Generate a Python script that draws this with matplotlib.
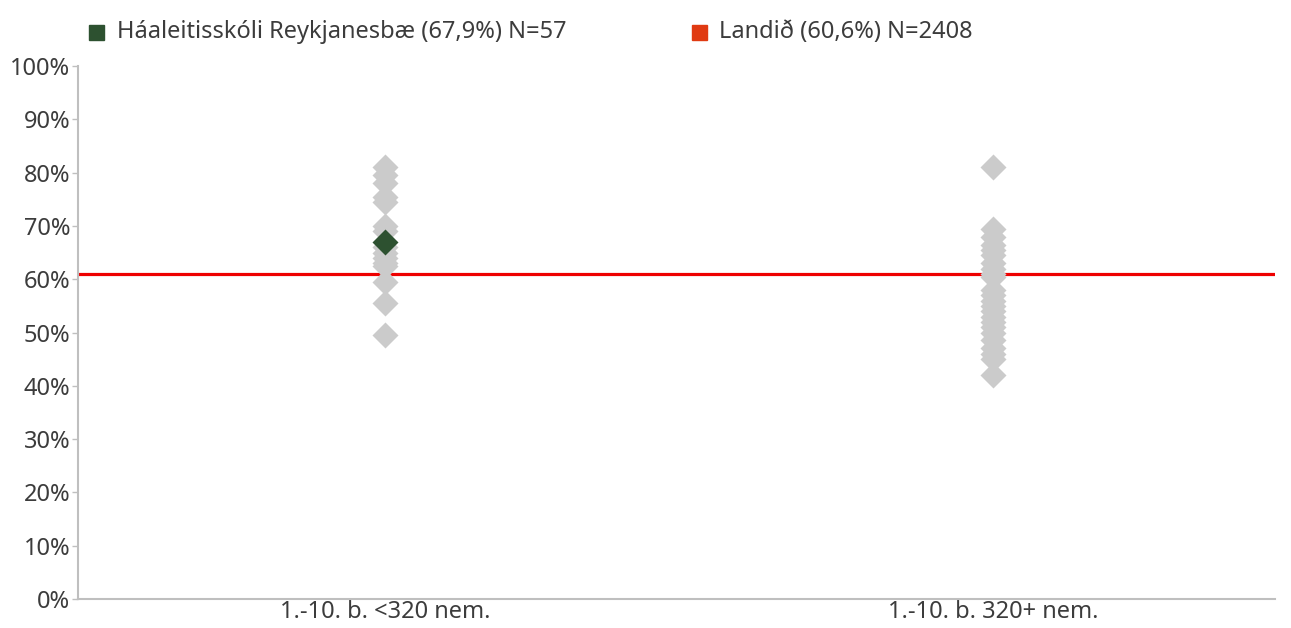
import matplotlib
matplotlib.use("Agg")
import matplotlib.pyplot as plt
from matplotlib.patches import Rectangle

plt.rcParams['font.family'] = ['Noto Sans', 'DejaVu Sans']

categories = ["1.-10. b. <320 nem.", "1.-10. b. 320+ nem."]
group_small = [81, 79.5, 78, 75.5, 74.5, 70, 69, 66, 65, 64, 63, 62.5, 59.5, 55.5, 49.5]
group_large = [81, 69.5, 68, 66.5, 65.5, 64.5, 63, 62, 61, 60.5, 58, 57, 56, 55, 54,
               53, 52, 51, 50, 48.5, 47, 46, 45, 42]
school_value = 67.0
school_category = 0
national_value = 61.0
legend_labels = ["Háaleitisskóli Reykjanesbæ (67,9%) N=57", "Landið (60,6%) N=2408"]
yticks = list(range(0, 101, 10))

gray = "#cbcbcb"
green = "#2d5130"
legend_red = "#e03a12"
line_red = "#ee0000"
text_col = "#3c3c3c"

fig = plt.figure(figsize=(12.91, 6.28), dpi=100)
ax = fig.add_axes([78/1291, 1 - 599/628, (1275-78)/1291, (599-66)/628])

ax.axhline(national_value, color=line_red, lw=2.3, zorder=2)

for i, vals in enumerate([group_small, group_large]):
    ax.plot([i]*len(vals), vals, linestyle='none', marker='D', ms=13.5,
            color=gray, mec='none', zorder=3)
ax.plot([school_category], [school_value], linestyle='none', marker='D', ms=13.5,
        color=green, mec='none', zorder=4)

ax.set_xlim(-0.505, 1.464)
ax.set_ylim(0, 100)
ax.set_xticks([0, 1])
ax.set_xticklabels(categories, fontsize=17, color=text_col)
ax.set_yticks(yticks)
ax.set_yticklabels([f"{t}%" for t in yticks], fontsize=17, color=text_col)
ax.tick_params(axis='x', length=0, pad=1)
ax.tick_params(axis='y', length=4, width=1, color="#bfbfbf", pad=1.5)
for s in ['top', 'right']:
    ax.spines[s].set_visible(False)
for s in ['left', 'bottom']:
    ax.spines[s].set_color("#bfbfbf")
    ax.spines[s].set_linewidth(1.5)

# legend
for (x_sq, x_tx), col, lab in zip([(89, 117), (692, 719)], [green, legend_red], legend_labels):
    fig.patches.append(Rectangle((x_sq/1291, 1 - 40/628), 15/1291, 15/628,
                                 transform=fig.transFigure, color=col))
    fig.text(x_tx/1291, 1 - 32/628, lab, fontsize=17, color=text_col, va='center', ha='left')

fig.savefig("out.png", dpi=100)
